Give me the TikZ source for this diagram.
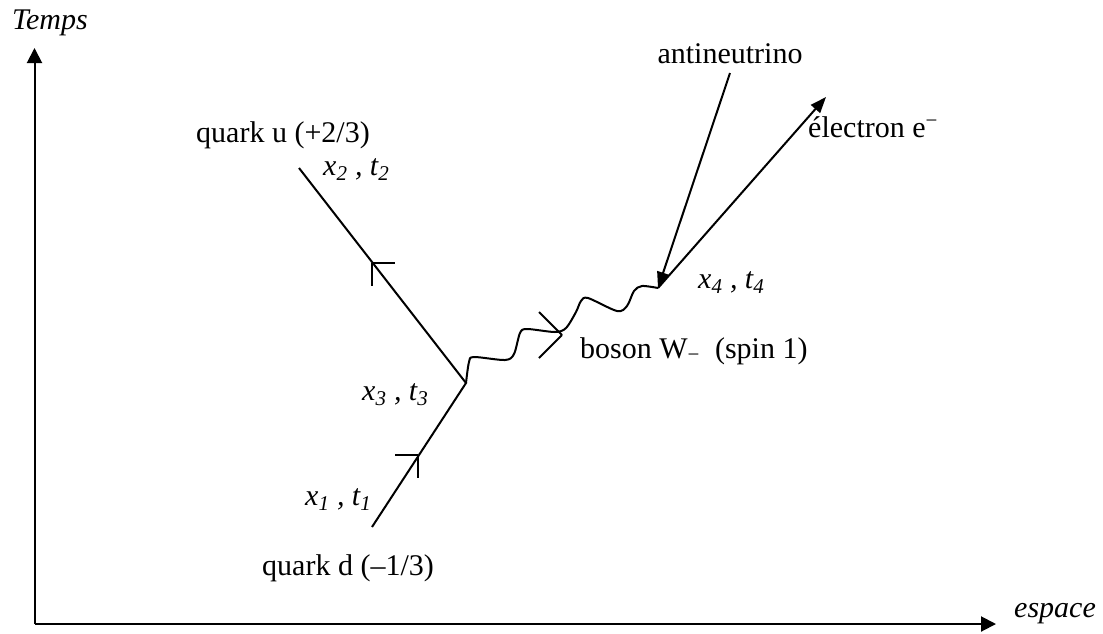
\documentclass[tikz,border=0pt]{standalone}
\usepackage{fontspec}
\setmainfont{Liberation Serif}
\usetikzlibrary{arrows.meta}
\def\armlen{23}

\tikzset{
  axis/.style={line width=2pt, -{Triangle[length=15pt, width=15pt]}},
  fermion/.style={line width=2pt},
  lepton/.style={line width=2pt, -{Triangle[length=16pt, width=12pt]}},
  label/.style={anchor=base west, inner sep=0pt},
}

\begin{document}
\begin{tikzpicture}[x=1pt, y=-1pt, font=\fontsize{30}{36}\selectfont]
  \useasboundingbox (0,0) rectangle (1103,633);

  % axes
  \coordinate (O) at (34.5,624);
  \coordinate (T) at (34.5,48);
  \coordinate (E) at (996,624);
  \draw[axis] (O) -- (T);
  \draw[axis] (O) -- (E);
  \node[label] (temps) at (12,29) {\textit{Temps}};
  \node[label] (espace) at (1014,617) {\textit{espace}};

  % vertices
  \coordinate (x1) at (372,527);
  \coordinate (x2) at (299,168);
  \coordinate (x3) at (466,383);
  \coordinate (x4) at (658,288);
  \coordinate (nu) at (730,73);
  \coordinate (el) at (826,97);

  % quarks
  \draw[fermion] (x1) -- (x3) -- (x2);
  \draw[fermion] (418,455) -- ++(-\armlen,0) (418,455) -- ++(0,\armlen);
  \draw[fermion] (372,263) -- ++(\armlen,0) (372,263) -- ++(0,\armlen);

  % boson W
  \draw[fermion] plot[smooth, tension=0.5] coordinates {
    (x3) (469,362) (474,357) (505,360) (514,354) (520,333) (527,329)
    (555,332) (566,328) (576,312) (581,301) (588,298) (617,311)
    (627,306) (634,291) (642,286) (x4)};
  \draw[fermion] (562,335) -- ++(-\armlen,-\armlen) (562,335) -- ++(-\armlen,\armlen);

  % leptons
  \draw[lepton] (nu) -- (x4);
  \draw[lepton] (x4) -- (el);

  \node[label] (quarku) at (196,142) {quark u (+2/3)};
  \node[label] (quarkd) at (262,575) {quark d (–1/3)};
  \node[label] (xt1) at (305,505) {\textit{x\textsubscript{1} , t\textsubscript{1}}};
  \node[label] (xt2) at (323,175) {\textit{x\textsubscript{2} , t\textsubscript{2}}};
  \node[label] (xt3) at (362,400) {\textit{x\textsubscript{3} , t\textsubscript{3}}};
  \node[label] (xt4) at (698,288) {\textit{x\textsubscript{4} , t\textsubscript{4}}};
  \node[label] (boson) at (580,358) {boson W\textsubscript{−}\ \ (spin 1)};
  \node[anchor=base, inner sep=0pt] (antinu) at (730,63) {antineutrino};
  \node[label] (elec) at (808,137) {électron e\textsuperscript{−}};
\end{tikzpicture}
\end{document}
